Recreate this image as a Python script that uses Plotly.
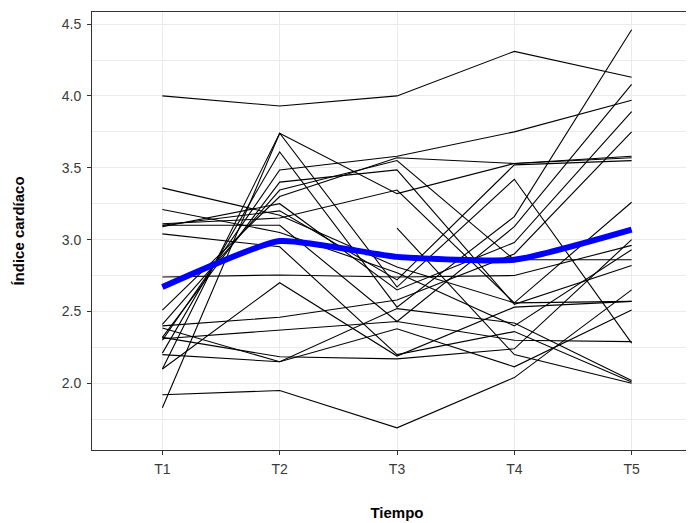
import plotly.graph_objects as go

tiempos = ["T1", "T2", "T3", "T4", "T5"]
x_pos = [1, 2, 3, 4, 5]

# Individual subject trajectories (índice cardíaco at T1..T5)
s01 = [4.00, 3.93, 4.00, 4.31, 4.13]
s02 = [1.92, 1.95, 1.69, 2.04, 2.65]
s03 = [1.83, 3.74, 3.32, 3.53, 3.58]
s04 = [2.10, 3.74, 2.67, 3.42, 2.28]
s05 = [2.21, 3.61, 2.53, 3.16, 4.46]
s06 = [2.30, 3.485, 3.58, 3.75, 3.97]
s07 = [2.51, 3.30, 3.57, 3.53, 3.57]
s08 = [2.41, 3.345, 3.55, 2.86, 2.86]
s09 = [3.36, 3.17, 2.81, 2.56, 2.57]
s10 = [3.21, 3.05, 2.77, 2.40, 2.93]
s11 = [3.11, 3.15, 3.345, 2.56, 3.26]
s12 = [2.32, 3.40, 3.485, 2.55, 2.82]
s13 = [3.10, 3.10, 2.43, 3.09, 4.08]
s14 = [2.74, 2.754, 2.74, 2.75, 2.96]
s15 = [3.09, 3.25, 2.65, 2.98, 3.89]
s16 = [3.04, 2.95, 2.20, 2.36, 2.01]
s17 = [2.10, 2.70, 2.19, 2.53, 2.57]
s18 = [2.40, 2.46, 2.58, 2.90, 3.75]
s19 = [2.385, 2.15, 2.52, 2.42, 2.02]
s20 = [2.31, 2.37, 2.43, 2.30, 2.29]
s21 = [2.32, 2.185, 2.17, 2.24, 3.00]
s22 = [2.20, 2.15, 2.38, 2.115, 2.51]
s23 = [3.10, 3.20, 2.72, 3.52, 3.55]
s24 = [None, None, 3.08, 2.20, 2.00]

sujetos = [s01, s02, s03, s04, s05, s06, s07, s08, s09, s10, s11, s12,
           s13, s14, s15, s16, s17, s18, s19, s20, s21, s22, s23, s24]

# Mean trend (blue line)
media = [2.67, 2.99, 2.88, 2.86, 3.07]

y_ticks = [2.0, 2.5, 3.0, 3.5, 4.0, 4.5]

fig = go.Figure()
for s in sujetos:
    fig.add_trace(go.Scatter(x=x_pos, y=s, mode="lines",
                             line=dict(color="black", width=1.1),
                             connectgaps=False, showlegend=False,
                             hoverinfo="skip"))
fig.add_trace(go.Scatter(x=x_pos, y=media, mode="lines",
                         line=dict(color="#0000FF", width=6, shape="spline", smoothing=0.5),
                         showlegend=False))

grid = "#EBEBEB"
tickfont = dict(family="Liberation Sans, Arial, sans-serif", size=14, color="#3A3A3A")
titlefont = dict(family="Liberation Sans, Arial, sans-serif", size=15, color="#000000")

fig.update_layout(
    width=694, height=523,
    margin=dict(l=84, r=0, t=4, b=81),
    paper_bgcolor="white", plot_bgcolor="white",
    xaxis=dict(
        range=[0.4, 5.6], tickvals=x_pos, ticktext=tiempos,
        showgrid=True, gridcolor=grid, gridwidth=1.1,
        zeroline=False, showline=True, linecolor="#333333", linewidth=1,
        mirror=True, ticks="outside", ticklen=4, tickcolor="#333333",
        tickfont=tickfont, ticklabelstandoff=2,
        title=dict(text="<b>Tiempo</b>", font=titlefont, standoff=31),
    ),
    yaxis=dict(
        range=[1.536, 4.584], tickvals=y_ticks,
        ticktext=[f"{v:.1f}" for v in y_ticks],
        showgrid=True, gridcolor=grid, gridwidth=1.1,
        minor=dict(dtick=0.25, tick0=1.75, showgrid=True, gridcolor=grid, gridwidth=0.6, ticks=""),
        zeroline=False, showline=True, linecolor="#333333", linewidth=1,
        ticks="outside", ticklen=4, tickcolor="#333333",
        tickfont=tickfont, ticklabelstandoff=3,
        title=dict(text="<b>Índice cardíaco</b>", font=titlefont, standoff=33),
    ),
)

fig.write_html("out.html")
